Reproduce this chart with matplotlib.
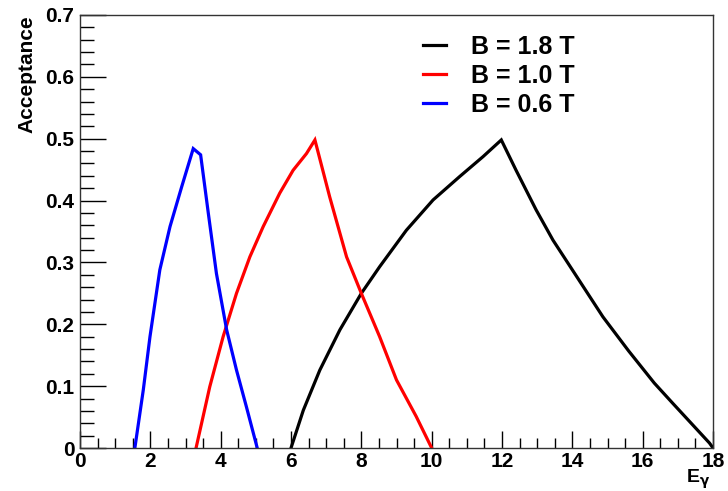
import matplotlib
matplotlib.use('Agg')
import matplotlib.pyplot as plt
from matplotlib.ticker import MultipleLocator

plt.rcParams['font.family'] = ['Liberation Sans', 'DejaVu Sans']
plt.rcParams['font.weight'] = 'bold'

# B = 1.8 T
e_18 = [6.0, 6.35, 6.82, 7.39, 8.0, 8.52, 9.28, 10.04, 10.8, 11.46, 11.98,
        12.4, 12.97, 13.45, 14.0, 14.87, 15.6, 16.33, 16.86, 17.9, 18.0]
acc_18 = [0.0, 0.061, 0.126, 0.191, 0.25, 0.293, 0.352, 0.401, 0.439, 0.471, 0.498,
          0.449, 0.385, 0.336, 0.288, 0.212, 0.157, 0.105, 0.072, 0.008, 0.0]

# B = 1.0 T
e_10 = [3.30, 3.69, 4.07, 4.45, 4.83, 5.21, 5.68, 6.06, 6.44, 6.68,
        7.10, 7.58, 8.0, 8.52, 9.0, 9.56, 10.0]
acc_10 = [0.0, 0.099, 0.180, 0.25, 0.309, 0.358, 0.412, 0.449, 0.476, 0.498,
          0.406, 0.309, 0.25, 0.18, 0.110, 0.051, 0.0]

# B = 0.6 T
e_06 = [1.56, 1.80, 1.99, 2.27, 2.56, 2.89, 3.22, 3.43, 3.65, 3.88, 4.17,
        4.45, 4.73, 5.04]
acc_06 = [0.0, 0.094, 0.18, 0.288, 0.358, 0.422, 0.484, 0.474, 0.379, 0.282, 0.191,
          0.126, 0.067, 0.0]

labels = ['B = 1.8 T', 'B = 1.0 T', 'B = 0.6 T']
colors = ['black', 'red', 'blue']

fig = plt.figure(figsize=(7.28, 4.91), dpi=100)
ax = fig.add_axes([80 / 728, 1 - 448 / 491, 633 / 728, 433 / 491])

for x, y, lab, c in zip([e_18, e_10, e_06], [acc_18, acc_10, acc_06], labels, colors):
    ax.plot(x, y, color=c, lw=2.3, label=lab, solid_joinstyle='miter')

ax.set_xlim(0, 18)
ax.set_ylim(0, 0.7)
ax.xaxis.set_major_locator(MultipleLocator(2))
ax.xaxis.set_minor_locator(MultipleLocator(0.5))
ax.yaxis.set_major_locator(MultipleLocator(0.1))
ax.yaxis.set_minor_locator(MultipleLocator(0.02))
ax.xaxis.set_major_formatter(lambda v, p: f'{v:g}')
ax.yaxis.set_major_formatter(lambda v, p: f'{v:g}')
ax.tick_params(axis='x', which='major', direction='in', length=12, width=1, labelsize=15, pad=3)
ax.tick_params(axis='x', which='minor', direction='in', length=7, width=1)
ax.tick_params(axis='y', which='major', direction='in', length=19, width=1, labelsize=15, pad=4)
ax.tick_params(axis='y', which='minor', direction='in', length=10, width=1)
for s in ax.spines.values():
    s.set_color('#333333')
    s.set_linewidth(1)

ax.set_ylabel('Acceptance', fontsize=15, fontweight='bold', loc='top')
ax.yaxis.set_label_coords(-0.068, 1.0)
ax.set_xlabel(r'E$_\mathbf{\gamma}$', fontsize=14, fontweight='bold', loc='right')
ax.xaxis.set_label_coords(0.995, -0.045)

ax.legend(loc='upper left', bbox_to_anchor=(0.515, 0.995), frameon=False,
          prop={'size': 18, 'weight': 'bold'}, handlelength=0.9, handletextpad=1.0,
          labelspacing=0.2, borderaxespad=0.3)

fig.savefig('out.png', dpi=100)
